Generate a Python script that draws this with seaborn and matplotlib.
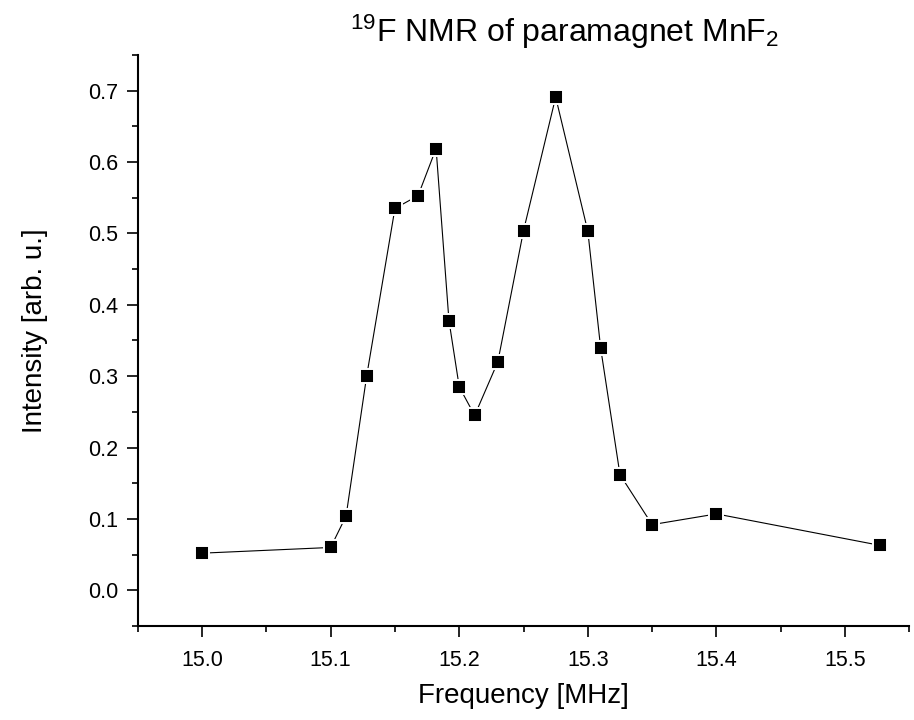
import pandas as pd
import matplotlib
matplotlib.use("Agg")
import matplotlib.pyplot as plt
from matplotlib.ticker import MultipleLocator
import seaborn as sns

# Data
frequency = [15.000, 15.100, 15.112, 15.128, 15.150, 15.168, 15.182, 15.192, 15.200,
             15.212, 15.230, 15.250, 15.275, 15.300, 15.310, 15.325, 15.350, 15.400, 15.527]
intensity = [0.052, 0.060, 0.104, 0.300, 0.535, 0.553, 0.619, 0.378, 0.285,
             0.245, 0.320, 0.504, 0.691, 0.503, 0.339, 0.162, 0.092, 0.107, 0.063]

x_ticks = [15.0, 15.1, 15.2, 15.3, 15.4, 15.5]
y_ticks = [0.0, 0.1, 0.2, 0.3, 0.4, 0.5, 0.6, 0.7]

df = pd.DataFrame({"Frequency": frequency, "Intensity": intensity})

sns.set_style("ticks")
plt.rcParams["font.family"] = ["Liberation Sans", "DejaVu Sans"]
plt.rcParams["mathtext.fontset"] = "custom"
plt.rcParams["mathtext.rm"] = "Liberation Sans"
plt.rcParams["mathtext.it"] = "Liberation Sans:italic"
for key in ["axes.edgecolor", "xtick.color", "ytick.color", "text.color", "axes.labelcolor"]:
    plt.rcParams[key] = "black"

fig = plt.figure(figsize=(9.14, 7.2), dpi=100)
ax = fig.add_axes([0.1507, 0.1306, 0.8442, 0.793])

sns.lineplot(
    data=df, x="Frequency", y="Intensity",
    estimator=None, sort=False, ax=ax,
    color="black", linewidth=0.8,
    marker="s", markersize=9.5, markerfacecolor="black",
    markeredgecolor="white", markeredgewidth=1.4)

ax.set_xlim(14.95, 15.55)
ax.set_ylim(-0.05, 0.75)
ax.set_xticks(x_ticks)
ax.set_yticks(y_ticks)
ax.set_xticklabels([f"{v:.1f}" for v in x_ticks])
ax.set_yticklabels([f"{v:.1f}" for v in y_ticks])
ax.xaxis.set_minor_locator(MultipleLocator(0.05))
ax.yaxis.set_minor_locator(MultipleLocator(0.05))

ax.tick_params(which="major", direction="out", length=8, width=1.2, labelsize=15.5)
ax.tick_params(which="minor", direction="out", length=4, width=1.2)
ax.tick_params(axis="x", which="major", pad=9.5)
ax.tick_params(axis="y", which="major", pad=6)

sns.despine(ax=ax)
for side in ["left", "bottom"]:
    ax.spines[side].set_linewidth(1.5)

ax.set_xlabel("Frequency [MHz]", fontsize=20)
ax.xaxis.set_label_coords(0.5, -0.100)
ax.set_ylabel("Intensity [arb. u.]", fontsize=20)
ax.yaxis.set_label_coords(-0.116, 0.518)

fig.text(0.618, 0.9417, r"$^{19}$F NMR of paramagnet MnF$_{2}$",
         fontsize=23, ha="center", va="baseline")

fig.savefig("out.png", dpi=100)
